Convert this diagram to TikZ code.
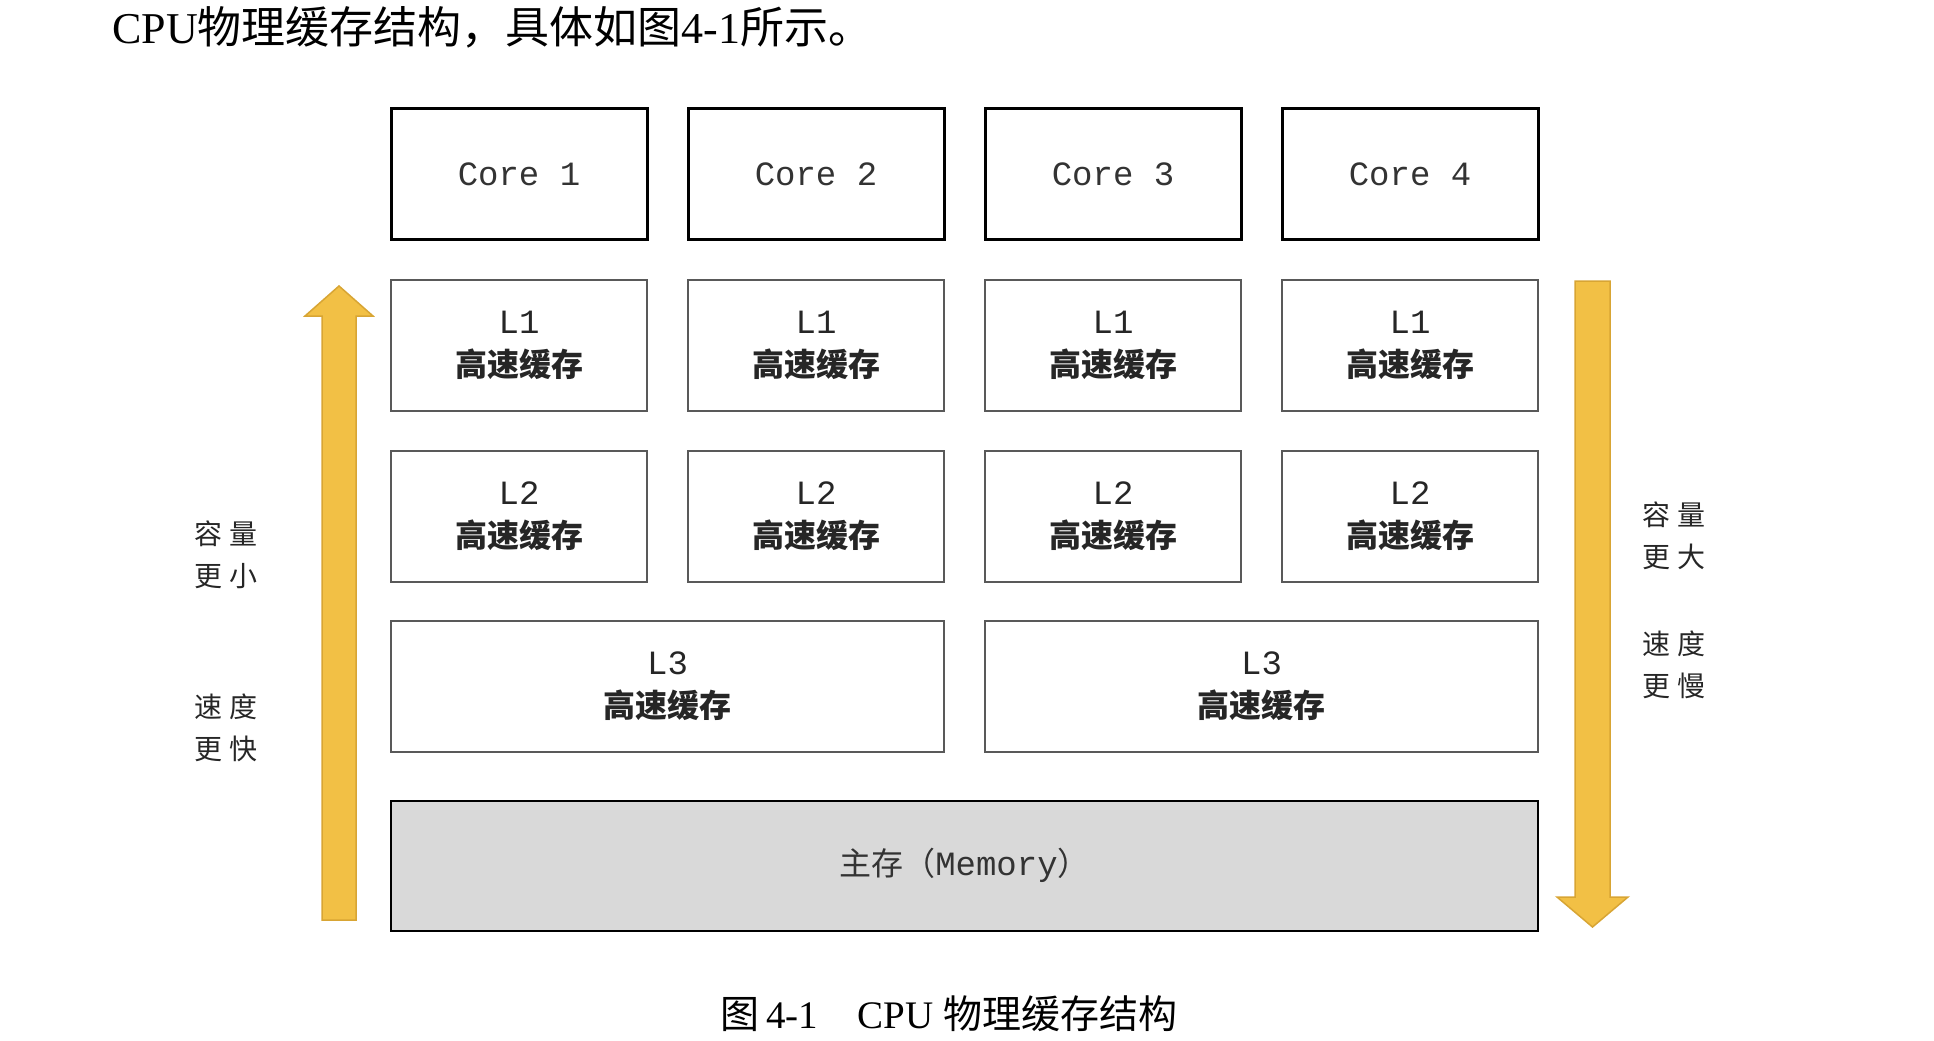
\documentclass[tikz,border=0pt]{standalone}
\usepackage{fontspec}
\setmainfont{Liberation Serif}
\setmonofont{Liberation Mono}
\newfontfamily\cjk{Noto Sans CJK SC}
\usetikzlibrary{positioning}

\definecolor{arrowfill}{HTML}{F2C045}
\definecolor{arrowedge}{HTML}{D8A534}
\definecolor{memgray}{HTML}{D9D9D9}
\newcommand{\gaosu}{{\cjk\bfseries\fontsize{16}{21.5}\selectfont 高速缓存}}

\begin{document}
\begin{tikzpicture}[x=0.5pt, y=-0.5pt,
    core/.style={draw, line width=1.5pt, minimum width=128pt, minimum height=65.5pt, inner sep=0pt, outer sep=0pt, text=black!80, font=\ttfamily\fontsize{17}{20}\selectfont},
    cache/.style={draw=black!65, line width=1pt, minimum width=128pt, minimum height=65.5pt, inner sep=0pt, outer sep=0pt, align=center, text=black!85, font=\ttfamily\fontsize{17}{21.5}\selectfont},
    zh/.style={font=\cjk\fontsize{14}{21}\selectfont, align=center, text=black!85},
    bigarrow/.style={fill=arrowfill, draw=arrowedge, line width=0.75pt, line join=miter}
]
\useasboundingbox (0,0) rectangle (1934,1040);

% Header text
\node [anchor=west, inner sep=0pt, font=\fontsize{22}{25}\selectfont] (intro) at (112,27) {CPU{\cjk 物理缓存结构，具体如图}4-1{\cjk 所示。}};

% Cores
\node [core] (core1) at (519,174) {Core 1};
\node [core, right=20.5pt of core1] (core2) {Core 2};
\node [core, right=20.5pt of core2] (core3) {Core 3};
\node [core, right=20.5pt of core3] (core4) {Core 4};

% L1 caches
\node [cache, below=20pt of core1] (l1a) {L1\\\gaosu};
\node [cache, below=20pt of core2] (l1b) {L1\\\gaosu};
\node [cache, below=20pt of core3] (l1c) {L1\\\gaosu};
\node [cache, below=20pt of core4] (l1d) {L1\\\gaosu};

% L2 caches
\node [cache, below=20pt of l1a] (l2a) {L2\\\gaosu};
\node [cache, below=20pt of l1b] (l2b) {L2\\\gaosu};
\node [cache, below=20pt of l1c] (l2c) {L2\\\gaosu};
\node [cache, below=20pt of l1d] (l2d) {L2\\\gaosu};

% L3 caches
\node [cache, minimum width=276.5pt, below right=19.5pt and 0pt of l2a.south west] (l3a) {L3\\\gaosu};
\node [cache, minimum width=276.5pt, below right=19.5pt and 0pt of l2c.south west] (l3b) {L3\\\gaosu};

% Main memory
\node [cache, draw=black, fill=memgray, text=black!80, minimum width=573.5pt, minimum height=65pt, below right=24.5pt and 0pt of l3a.south west] (mem) {{\cjk\fontsize{16}{20}\selectfont 主存（}Memory{\cjk\fontsize{16}{20}\selectfont ）}};

% Side labels
\node [zh] (lcap) at (226,555) {容\hspace{4pt}量\\更\hspace{4pt}小};
\node [zh] (lspd) at (226,728) {速\hspace{4pt}度\\更\hspace{4pt}快};
\node [zh] (rcap) at (1674,536) {容\hspace{4pt}量\\更\hspace{4pt}大};
\node [zh] (rspd) at (1674,665) {速\hspace{4pt}度\\更\hspace{4pt}慢};

% Arrows
\draw [bigarrow] (322,920) -- (322,316) -- (305,316) -- (339,286) -- (373,316) -- (356,316) -- (356,920) -- cycle;
\draw [bigarrow] (1575,281) -- (1575,897) -- (1557,897) -- (1592.5,927) -- (1628,897) -- (1610,897) -- (1610,281) -- cycle;

% Caption
\node [font=\fontsize{19.5}{23}\selectfont] (caption) at (949,1014) {{\cjk 图}\,4-1\hspace{1em}CPU {\cjk 物理缓存结构}};

\end{tikzpicture}
\end{document}
